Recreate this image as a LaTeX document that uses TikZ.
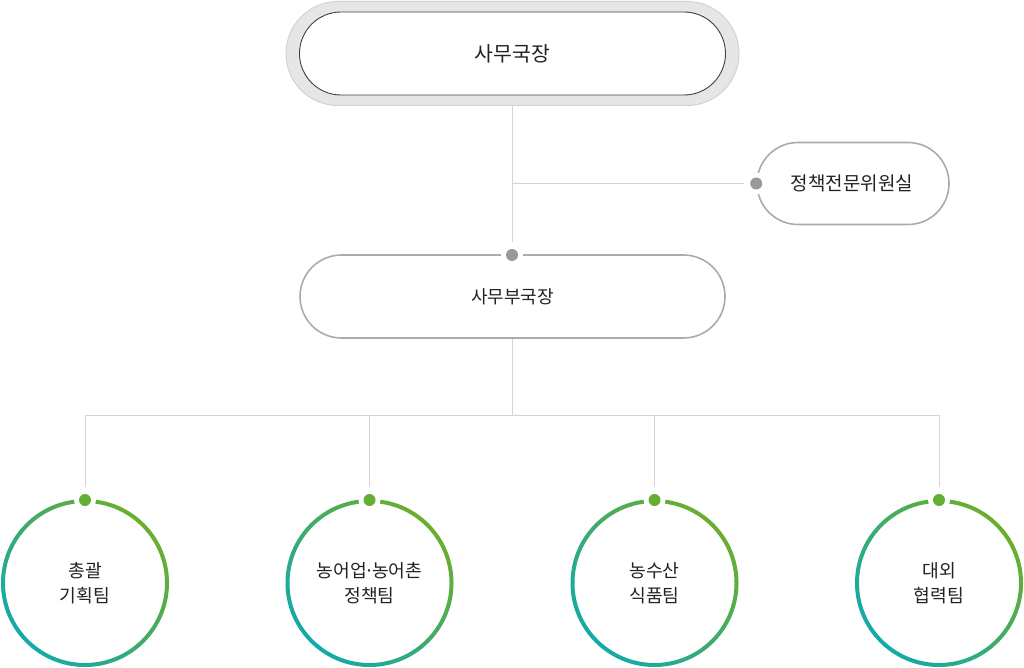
\documentclass[tikz,border=0pt]{standalone}
\usepackage{fontspec}
\setmainfont{Noto Sans CJK KR}
\usetikzlibrary{calc}
\definecolor{linegray}{HTML}{D4D4D4}
\definecolor{pillgray}{HTML}{ABABAB}
\definecolor{outergray}{HTML}{E6E6E6}
\definecolor{outeredge}{HTML}{D2D2D2}
\definecolor{dotgray}{HTML}{999999}
\definecolor{ringteal}{HTML}{13AAAA}
\definecolor{ringgreen}{HTML}{6BAE2C}
\definecolor{dotgreen}{HTML}{66AD34}
\definecolor{txt}{HTML}{222222}
\tikzset{
  conn/.style={draw=linegray, line width=1pt},
  pill/.style={rectangle, draw=pillgray, line width=1.6pt, fill=white, text=txt},
  graydot/.style={circle, fill=dotgray, inner sep=0pt, minimum size=12pt},
  greendot/.style={circle, fill=dotgreen, inner sep=0pt, minimum size=12pt},
  gap/.style={circle, fill=white, inner sep=0pt, minimum size=22pt},
  team/.style={circle, minimum size=168pt, inner sep=0pt, align=center, text=txt,
    font=\fontsize{18.2}{25}\selectfont},
}
\newcommand{\ringat}[1]{%
  \shade[even odd rule, top color=ringgreen, bottom color=ringteal, shading angle=-45]
    (#1) circle[radius=84pt] (#1) circle[radius=80pt];
  \node[gap] at ($(#1)+(0,-83)$) {};
  \node[greendot] at ($(#1)+(0,-83)$) {};
}
\newcommand{\mdot}{\makebox[0.3em]{·}}
\begin{document}
\begin{tikzpicture}[x=1pt,y=-1pt]
\useasboundingbox[fill=white] (0,0) rectangle (1024,668);

% top node
\node[rectangle, rounded corners=52pt, minimum width=453pt, minimum height=104pt,
  fill=outergray, draw=outeredge, line width=1pt] (topouter) at (512.5,53.5) {};
\node[rectangle, rounded corners=41.5pt, minimum width=426pt, minimum height=83pt,
  fill=white, draw=black!75, line width=0.9pt, text=txt,
  font=\fontsize{20.5}{24}\selectfont] (top) at (512.5,53.5) {사무국장};

% side node
\node[pill, rounded corners=41pt, minimum width=192pt, minimum height=82pt,
  font=\fontsize{19}{22}\selectfont] (side) at (853,183.5) {\hspace*{-2pt}정책전문위원실};
% deputy
\node[pill, rounded corners=41.5pt, minimum width=425pt, minimum height=83pt,
  font=\fontsize{18}{22}\selectfont] (dep) at (512.5,296.5) {사무부국장};

\coordinate (sidedot) at (side.west);
\coordinate (depdot) at (512,255);
\coordinate (jside) at (depdot |- sidedot);

\node[gap] at (sidedot) {};
\node[graydot] at (sidedot) {};
\node[gap] at (depdot) {};
\node[graydot] at (depdot) {};

\draw[conn] (topouter.south -| depdot) -- ($(depdot)+(0,-13)$);
\draw[conn] (jside) -- ($(sidedot)+(-12,0)$);

% teams
\node[team] (t1) at (85,583) {총괄\\기획팀};
\node[team] (t2) at (369.5,583) {농어업\mdot 농어촌\\정책팀};
\node[team] (t3) at (654.5,583) {농수산\\식품팀};
\node[team] (t4) at (939,583) {대외\\협력팀};

\ringat{t1}\ringat{t2}\ringat{t3}\ringat{t4}

\coordinate (bus) at (512,415);
\draw[conn] (dep.south -| bus) -- (bus);
\draw[conn] (t1.center |- bus) -- (t4.center |- bus);
\foreach \t in {t1,t2,t3,t4}{
  \draw[conn] (\t.center |- bus) -- ($(\t.center)+(0,-96)$);
}
\end{tikzpicture}
\end{document}
